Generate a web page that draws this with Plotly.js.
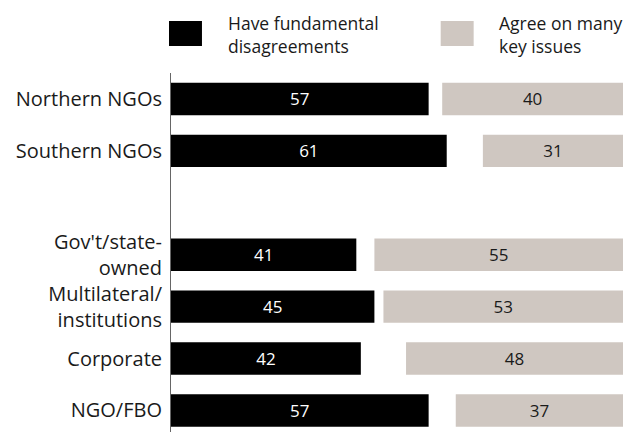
<!DOCTYPE html>
<html>
<head>
<meta charset="utf-8">
<script src="https://cdn.plot.ly/plotly-3.0.1.min.js"></script>
<style>html,body{margin:0;padding:0;background:#fff;}#chart{width:640px;height:432px;}</style>
</head>
<body>
<div id="chart"></div>
<script>
const categories = ["Northern NGOs", "Southern NGOs", " ", "Gov't/state-<br>owned", "Multilateral/<br>institutions", "Corporate", "NGO/FBO"];
const disagree = [57, 61, null, 41, 45, 42, 57];
const agree = [40, 31, null, 55, 53, 48, 37];
const seriesNames = ["Have fundamental<br>disagreements", "Agree on many<br>key issues"];
const total = 100;

const W = 640, H = 432;
const M = {l: 171, r: 16.5, t: 73, b: 0};
const pw = W - M.l - M.r, ph = H - M.t - M.b;
const px = x => (x - M.l) / pw;
const py = y => 1 - (y - M.t) / ph;

const FONT = "Open Sans, sans-serif";

const traces = [
  {
    type: 'bar', orientation: 'h', name: seriesNames[0],
    y: categories, x: disagree,
    marker: {color: '#000000'},
    width: 0.623,
    text: disagree.map(v => v == null ? '' : String(v)),
    textposition: 'inside', insidetextanchor: 'middle',
    textfont: {color: '#ffffff', size: 17, family: FONT},
    hoverinfo: 'none', cliponaxis: false
  },
  {
    type: 'bar', orientation: 'h', name: seriesNames[1],
    y: categories, x: agree,
    base: agree.map(v => v == null ? null : total - v),
    marker: {color: '#cfc7c1'},
    width: 0.623,
    text: agree.map(v => v == null ? '' : String(v)),
    textposition: 'inside', insidetextanchor: 'middle',
    textfont: {color: '#1a1a1a', size: 17, family: FONT},
    hoverinfo: 'none', cliponaxis: false
  }
];

const shapes = [
  {type: 'rect', xref: 'paper', yref: 'paper', x0: px(169), x1: px(202), y0: py(46), y1: py(21), fillcolor: '#000000', line: {width: 0}},
  {type: 'rect', xref: 'paper', yref: 'paper', x0: px(441), x1: px(474), y0: py(46), y1: py(21), fillcolor: '#cfc7c1', line: {width: 0}}
];

const annotations = [
  {xref: 'paper', yref: 'paper', x: px(226), y: py(9), xanchor: 'left', yanchor: 'top', align: 'left', showarrow: false,
   text: seriesNames[0], font: {size: 17.5, color: '#1a1a1a', family: FONT}},
  {xref: 'paper', yref: 'paper', x: px(497), y: py(9), xanchor: 'left', yanchor: 'top', align: 'left', showarrow: false,
   text: seriesNames[1], font: {size: 17.5, color: '#1a1a1a', family: FONT}}
];

const layout = {
  width: W, height: H,
  margin: M,
  paper_bgcolor: '#ffffff', plot_bgcolor: '#ffffff',
  barmode: 'overlay',
  showlegend: false,
  font: {family: FONT, color: '#1a1a1a', size: 17},
  xaxis: {range: [0, total], visible: false, fixedrange: true},
  yaxis: {
    type: 'category', categoryorder: 'array', categoryarray: categories,
    range: [6.415, -0.5], autorange: false,
    showline: true, linecolor: '#666666', linewidth: 1,
    showgrid: false, zeroline: false, ticks: '',
    ticklabelstandoff: 4,
    tickfont: {size: 20, color: '#1a1a1a', family: FONT}
  },
  shapes: shapes,
  annotations: annotations
};

Plotly.newPlot('chart', traces, layout, {displayModeBar: false, staticPlot: true});
</script>
</body>
</html>
